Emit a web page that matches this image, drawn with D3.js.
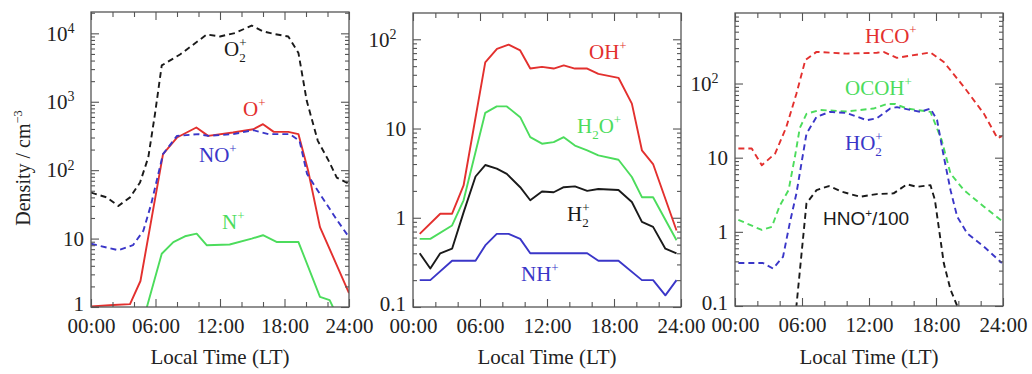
<!DOCTYPE html>
<html><head><meta charset="utf-8">
<script src="https://cdn.jsdelivr.net/npm/d3@7"></script>
<style>body{margin:0;background:#fff}svg{display:block}</style>
</head><body><svg id="c" width="1032" height="374"></svg>
<script>
// ---------- data (local time in hours, density in cm^-3) ----------
// Panel 1
const O2p_h = [0,1.46,2.54,3.63,4.56,5.33,5.95,6.58,8.28,10.76,12.0,13.4,14.95,16.0,17.0,18.35,19.3,20.07,21.1,22.1,22.86,24];
const O2p_v = [47,40,30,40,66,154,660,3400,4900,9600,9000,10100,13000,10700,9800,9000,5150,1030,268,138,78,63];
const Op_h = [0,2.07,3.63,4.6,6.7,8,9.8,10.9,13.2,15.1,16.0,17.0,18.35,19.3,20.2,21.3,23,24];
const Op_v = [1.02,1.07,1.1,2.4,172,300,420,317,355,396,470,363,363,336,98,14.7,3.65,1.6];
const NOp_h = [0,2.54,3.9,4.87,5.6,6.7,8,10,10.9,13.2,15.1,16.5,18.5,19.4,20.1,21.1,22.9,24];
const NOp_v = [8.4,6.75,8,13,32,172,317,336,317,336,384,336,336,268,88,50,18.5,10.5];
const Np_h = [4.5,5.2,6.58,7.66,8.74,9.83,10.76,12.9,14.95,16.0,17.3,19.3,21.3,22.2,22.5,23];
const Np_v = [0.4,1.0,6.0,8.9,10.8,11.8,8.0,8.2,10,11.2,8.9,8.9,1.41,1.26,1.0,0.5];
// Panel 2
const OHp_h = [0.6,2.44,3.5,4.53,6.47,7.52,8.56,9.6,10.5,11.55,12.6,13.5,14.5,15.6,16.6,18.4,19.6,20.5,21.5,23.6];
const OHp_v = [0.66,1.11,1.11,2.3,55,78,87,75,47,49,47,51,47,47,41,37,19,5.7,4.0,0.72];
const H2Op_h = [0.6,1.55,3.5,4.53,6.47,7.5,8.4,9.6,10.5,11.55,12.6,13.5,14.5,15.6,16.6,18.4,19.6,20.5,21.5,23.6];
const H2Op_v = [0.58,0.58,0.82,1.57,15,17.7,17.7,13.4,8,6.76,7.05,8,6.45,5.7,5.0,4.47,2.86,1.7,1.7,0.56];
const H2p_h = [0.6,1.55,2.44,3.5,4.53,5.6,6.47,7.5,8.4,9.6,10.5,11.55,12.6,13.5,14.5,15.6,16.6,18.4,19.6,20.5,21.5,22.6,23.6];
const H2p_v = [0.40,0.27,0.40,0.45,1.15,2.9,3.9,3.55,3.1,2.2,1.57,1.97,1.93,2.2,2.25,2.0,2.1,2.05,1.5,0.9,0.79,0.45,0.40];
const NHp_h = [0.6,1.55,3.5,5.6,6.47,7.5,8.56,9.6,10.5,15.6,16.6,18.4,20.5,21.5,22.6,23.6];
const NHp_v = [0.2,0.2,0.33,0.33,0.49,0.66,0.66,0.58,0.40,0.40,0.33,0.33,0.2,0.2,0.135,0.2];
// Panel 3
const HCOp_h = [0.3,1.5,2.4,3.6,4.6,5.5,6.3,7.3,10,12.7,13.3,14.5,17.5,18.7,20.5,22.3,23.5,23.9];
const HCOp_v = [13.3,13.3,7.9,11.4,26,73,207,267,253,260,267,222,262,195,90,39,18.3,19.5];
const OCOHp_h = [0.3,2.4,3.3,4.0,4.8,5.4,5.8,6.4,7.6,10,12.4,13.6,14.35,15.4,17.5,18.5,19.3,20.5,22.3,23.9];
const OCOHp_v = [1.45,1.06,1.17,2.24,3.65,11,25,39,44,42,46,53,53,46,41.5,17.4,6.1,3.65,2.18,1.4];
const HO2p_h = [0.3,2.5,3.4,4.3,4.9,5.5,6.0,6.4,7.3,8.5,10,11.8,12.7,13.9,14.5,15.7,16.6,17.5,18.1,18.7,19.3,19.9,20.8,22.3,23.9];
const HO2p_v = [0.38,0.38,0.32,0.46,1.3,3.3,9.3,21,35.5,41.5,40,32,34,46,48,44,41.5,46,32,10.3,3.65,1.6,0.95,0.63,0.38];
const HNOp_h = [5.3,5.5,6.4,7.3,8.4,9.6,11.2,12.7,14.2,15.4,16.3,17.5,17.9,18.7,19.3,19.9,20.3];
const HNOp_v = [0.05,0.1,2.42,3.65,4.14,3.47,2.97,3.23,3.3,4.37,4.05,4.27,2.7,0.376,0.166,0.1,0.05];

const xTickHours = [0,6,12,18,24];
const xTickLabels = ["00:00","06:00","12:00","18:00","24:00"];
const xMinorHours = [2,4,8,10,14,16,20,22];

const RED="#e3302e", GREEN="#4cdc5c", BLUE="#3a36c8", BLACK="#1a1a1a";
const SERIF='"Liberation Serif","Times New Roman",serif';

const panels = [
  {x0:91, x1:349, y0:12, y1:307, ydom:[1,2.05e4], ymaj:[1,10,100,1000,10000], ylab:true,
   series:[
    {h:O2p_h,v:O2p_v,c:BLACK,dash:true,label:"O_{2}^{+}",lx:224,ly:56},
    {h:Op_h,v:Op_v,c:RED,dash:false,label:"O^{+}",lx:243,ly:116},
    {h:NOp_h,v:NOp_v,c:BLUE,dash:true,label:"NO^{+}",lx:199,ly:162},
    {h:Np_h,v:Np_v,c:GREEN,dash:false,label:"N^{+}",lx:222,ly:229}]},
  {x0:413, x1:681, y0:13, y1:307, ydom:[0.1,197], ymaj:[0.1,1,10,100],
   series:[
    {h:OHp_h,v:OHp_v,c:RED,dash:false,label:"OH^{+}",lx:589,ly:59},
    {h:H2Op_h,v:H2Op_v,c:GREEN,dash:false,label:"H_{2}O^{+}",lx:577,ly:133},
    {h:H2p_h,v:H2p_v,c:BLACK,dash:false,label:"H_{2}^{+}",lx:567,ly:221},
    {h:NHp_h,v:NHp_v,c:BLUE,dash:false,label:"NH^{+}",lx:521,ly:281}]},
  {x0:735, x1:1003, y0:13, y1:306, ydom:[0.1,893], ymaj:[0.1,1,10,100],
   series:[
    {h:HCOp_h,v:HCOp_v,c:RED,dash:true,label:"HCO^{+}",lx:865,ly:43},
    {h:OCOHp_h,v:OCOHp_v,c:GREEN,dash:true,label:"OCOH^{+}",lx:845,ly:95},
    {h:HO2p_h,v:HO2p_v,c:BLUE,dash:true,label:"HO_{2}^{+}",lx:845,ly:150},
    {h:HNOp_h,v:HNOp_v,c:BLACK,dash:true,label:"HNO^{+}/100",lx:823,ly:225,sans:true}]}
];

const svg = d3.select("#c");

function rich(t, str, fs){
  const parts = str.match(/(_\{[^}]*\}|\^\{[^}]*\}|[^_^]+)/g);
  let shift = 0, lastSub = null;
  parts.forEach(p=>{
    let target=0, txt=p, size=fs, kind="n";
    if(p.startsWith("_{")){target=fs*0.28; txt=p.slice(2,-1); size=fs*0.62; kind="sub";}
    else if(p.startsWith("^{")){target=-fs*0.42; txt=p.slice(2,-1); size=fs*0.62; kind="sup";}
    const ts = t.append("tspan").attr("font-size",size).attr("dy",target-shift).text(txt);
    if(kind==="sup" && lastSub!==null) ts.attr("dx", -lastSub*size*0.5);
    shift = target;
    lastSub = kind==="sub" ? txt.length : null;
  });
}

function minorVals(dom){
  const out=[];
  for(let e=Math.floor(Math.log10(dom[0])); e<=Math.ceil(Math.log10(dom[1])); e++){
    for(let m=2;m<=9;m++){const v=m*Math.pow(10,e); if(v>dom[0]&&v<dom[1]) out.push(v);}
  }
  return out;
}

panels.forEach((P,i)=>{
  const x = d3.scaleLinear().domain([0,24]).range([P.x0,P.x1]);
  const y = d3.scaleLog().domain(P.ydom).range([P.y1,P.y0]);
  const g = svg.append("g");
  const clipId = "clip"+i;
  svg.append("clipPath").attr("id",clipId).append("rect")
    .attr("x",P.x0).attr("y",P.y0).attr("width",P.x1-P.x0).attr("height",P.y1-P.y0);

  const line = d3.line().x(d=>x(d[0])).y(d=>y(d[1]));
  P.series.forEach(s=>{
    g.append("path").datum(s.h.map((h,k)=>[h,s.v[k]]))
      .attr("clip-path",`url(#${clipId})`)
      .attr("d",line).attr("fill","none").attr("stroke",s.c).attr("stroke-width",1.9)
      .attr("stroke-linejoin","round")
      .attr("stroke-dasharray", s.dash ? "6,4" : null);
    const fs = s.sans?19:21;
    const t = g.append("text").attr("x",s.lx).attr("y",s.ly).attr("fill",s.c)
      .attr("font-family", s.sans ? '"Liberation Sans",Arial,sans-serif' : SERIF)
      .attr("font-size", fs);
    rich(t, s.label, fs);
  });

  g.append("rect").attr("x",P.x0).attr("y",P.y0).attr("width",P.x1-P.x0).attr("height",P.y1-P.y0)
    .attr("fill","none").attr("stroke","#555").attr("stroke-width",1.3);

  const styleAxis = sel => { sel.select(".domain").remove();
    sel.selectAll("line").attr("stroke","#555").attr("stroke-width",1.1);
    sel.attr("font-family",SERIF).attr("font-size",21).selectAll("text").attr("fill","#222"); };

  g.append("g").attr("transform",`translate(0,${P.y1})`)
    .call(d3.axisBottom(x).tickValues(xTickHours).tickFormat((d,k)=>xTickLabels[k])
      .tickSizeInner(-8).tickSizeOuter(0).tickPadding(11)).call(styleAxis);
  g.append("g").attr("transform",`translate(0,${P.y1})`)
    .call(d3.axisBottom(x).tickValues(xMinorHours).tickFormat("").tickSizeInner(-5).tickSizeOuter(0)).call(styleAxis);
  g.append("g").attr("transform",`translate(0,${P.y0})`)
    .call(d3.axisTop(x).tickValues(xTickHours).tickFormat("").tickSizeInner(-8).tickSizeOuter(0)).call(styleAxis);
  g.append("g").attr("transform",`translate(0,${P.y0})`)
    .call(d3.axisTop(x).tickValues(xMinorHours).tickFormat("").tickSizeInner(-5).tickSizeOuter(0)).call(styleAxis);

  const la = g.append("g").attr("transform",`translate(${P.x0},0)`)
    .call(d3.axisLeft(y).tickValues(P.ymaj).tickFormat(d=>d>=100?"10":String(d))
      .tickSizeInner(-8).tickSizeOuter(0).tickPadding(7)).call(styleAxis);
  la.selectAll("text").each(function(d){
    const t=d3.select(this);
    if(d===P.ydom[0]) t.attr("y",-3);
    if(d>=100){
      t.attr("dx","-0.45em");
      t.append("tspan").attr("font-size",14).attr("dy","-0.55em").text(Math.round(Math.log10(d)));
    }
  });
  g.append("g").attr("transform",`translate(${P.x0},0)`)
    .call(d3.axisLeft(y).tickValues(minorVals(P.ydom)).tickFormat("").tickSizeInner(-4).tickSizeOuter(0)).call(styleAxis);
  g.append("g").attr("transform",`translate(${P.x1},0)`)
    .call(d3.axisRight(y).tickValues(P.ymaj).tickFormat("").tickSizeInner(-8).tickSizeOuter(0)).call(styleAxis);
  g.append("g").attr("transform",`translate(${P.x1},0)`)
    .call(d3.axisRight(y).tickValues(minorVals(P.ydom)).tickFormat("").tickSizeInner(-4).tickSizeOuter(0)).call(styleAxis);

  g.append("text").attr("x",(P.x0+P.x1)/2).attr("y",364).attr("text-anchor","middle")
    .attr("font-family",SERIF).attr("font-size",21).attr("fill","#222").text("Local Time (LT)");

  if(P.ylab){
    const t = g.append("text").attr("transform",`translate(30,168) rotate(-90)`)
      .attr("text-anchor","middle").attr("font-family",SERIF).attr("font-size",20).attr("fill","#222");
    rich(t,"Density / cm^{−3}",20);
  }
});
</script></body></html>
